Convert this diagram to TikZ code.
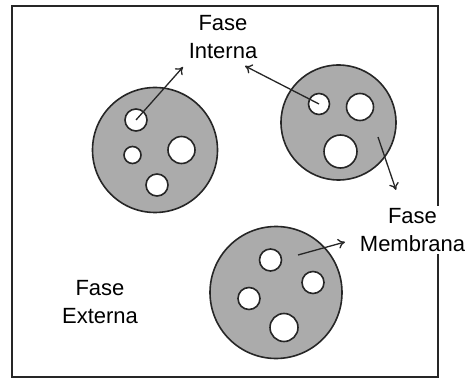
\documentclass[tikz,border=0pt]{standalone}
\usepackage{fontspec}
\setmainfont{Liberation Sans}
\usetikzlibrary{arrows.meta}
\colorlet{membranegray}{black!33}
\colorlet{darkline}{black!85}

\tikzset{
  drop/.style={circle,draw=darkline,line width=1.6pt,fill=membranegray,inner sep=0pt},
  droplet/.style={circle,draw=darkline,line width=1.6pt,fill=white,inner sep=0pt},
  phase/.style={fill=white,align=center,inner sep=2pt,font=\fontsize{22}{28}\selectfont},
  pointer/.style={-{To[length=7pt,width=10pt]},line width=1.3pt,darkline},
}

\begin{document}
\begin{tikzpicture}[x=1pt,y=-1pt]
      \useasboundingbox (0,0) rectangle (468,379);
      \draw [darkline,line width=1.1pt] (12,6) rectangle (438,377);

      \node [drop,minimum size=125pt] (drop1) at (155,150) {};
      \node [droplet,minimum size=22pt] (in11) at (136,120) {};
      \node [droplet,minimum size=17pt] (in12) at (132.5,155) {};
      \node [droplet,minimum size=27pt] (in13) at (181.5,150) {};
      \node [droplet,minimum size=22pt] (in14) at (157,185) {};

      \node [drop,minimum size=115pt] (drop2) at (338.5,122.5) {};
      \node [droplet,minimum size=21pt] (in21) at (319,104) {};
      \node [droplet,minimum size=27pt] (in22) at (360,107) {};
      \node [droplet,minimum size=33pt] (in23) at (340.5,151.5) {};

      \node [drop,minimum size=132pt] (drop3) at (276,292.5) {};
      \node [droplet,minimum size=22pt] (in31) at (270.5,260) {};
      \node [droplet,minimum size=22pt] (in32) at (313,282.5) {};
      \node [droplet,minimum size=22pt] (in33) at (249,298.5) {};
      \node [droplet,minimum size=28pt] (in34) at (284,327.5) {};

      \node [phase] (interna) at (223,37.5) {Fase\\Interna};
      \node [phase] (membrana) at (412.5,230) {Fase\\Membrana};
      \node [phase] (externa) at (100,302) {Fase\\Externa};

      \coordinate (tipint1) at (183,67);
      \coordinate (tipint2) at (245,66);
      \coordinate (memb2) at (378,137);
      \coordinate (tipmemb2) at (396,190);
      \coordinate (memb3) at (298,255);
      \coordinate (tipmemb3) at (345,242);

      \draw [pointer] (in11.center) -- (tipint1);
      \draw [pointer] (in21.center) -- (tipint2);
      \draw [pointer] (memb2) -- (tipmemb2);
      \draw [pointer] (memb3) -- (tipmemb3);
\end{tikzpicture}
\end{document}
